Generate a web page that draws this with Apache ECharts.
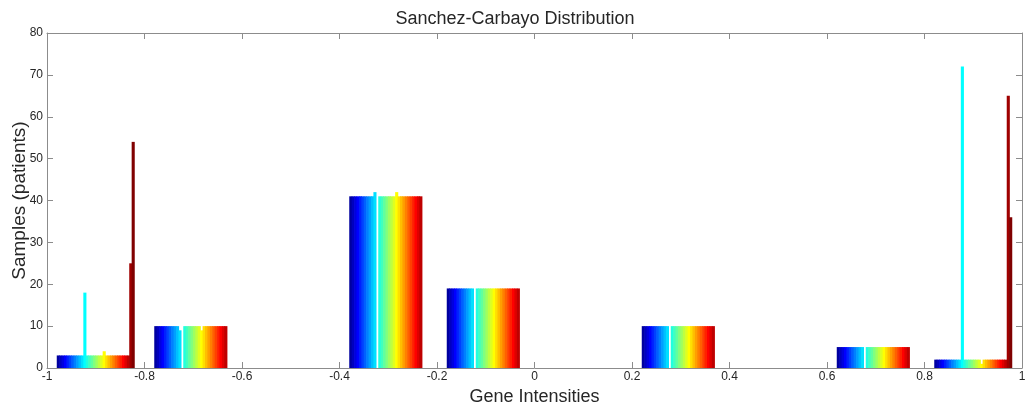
<!DOCTYPE html>
<html>
<head>
<meta charset="utf-8">
<script src="https://cdn.jsdelivr.net/npm/echarts@6/dist/echarts.min.js"></script>
<style>
  html, body { margin: 0; padding: 0; background: #fff; }
  #chart { width: 1030px; height: 405px; }
</style>
</head>
<body>
<div id="chart"></div>
<script>
// Histogram bins (centres) and axis ticks
const binCenters = ['-0.9', '-0.7', '-0.5', '-0.3', '-0.1', '0.1', '0.3', '0.5', '0.7', '0.9'];
const xTicks = [-1, -0.8, -0.6, -0.4, -0.2, 0, 0.2, 0.4, 0.6, 0.8, 1];
const yTicks = [0, 10, 20, 30, 40, 50, 60, 70, 80];

// Patient counts per bin, one row per gene (32 genes)
const counts = [
  [3, 10, 0, 41, 19, 0, 10, 0, 5, 2],
  [3, 10, 0, 41, 19, 0, 10, 0, 5, 2],
  [3, 10, 0, 41, 19, 0, 10, 0, 5, 2],
  [3, 10, 0, 41, 19, 0, 10, 0, 5, 2],
  [3, 10, 0, 41, 19, 0, 10, 0, 5, 2],
  [3, 10, 0, 41, 19, 0, 10, 0, 5, 2],
  [3, 10, 0, 41, 19, 0, 10, 0, 5, 2],
  [3, 10, 0, 41, 19, 0, 10, 0, 5, 2],
  [3, 10, 0, 41, 19, 0, 10, 0, 5, 2],
  [3, 10, 0, 41, 19, 0, 10, 0, 5, 2],
  [3, 9, 0, 42, 19, 0, 10, 0, 5, 2],
  [18, 0, 0, 0, 0, 0, 0, 0, 0, 72],
  [3, 10, 0, 41, 19, 0, 10, 0, 5, 2],
  [3, 10, 0, 41, 19, 0, 10, 0, 5, 2],
  [3, 10, 0, 41, 19, 0, 10, 0, 5, 2],
  [3, 10, 0, 41, 19, 0, 10, 0, 5, 2],
  [3, 10, 0, 41, 19, 0, 10, 0, 5, 2],
  [3, 10, 0, 41, 19, 0, 10, 0, 5, 2],
  [3, 10, 0, 41, 19, 0, 10, 0, 5, 2],
  [4, 9, 0, 42, 19, 0, 10, 0, 5, 1],
  [3, 10, 0, 41, 19, 0, 10, 0, 5, 2],
  [3, 10, 0, 41, 19, 0, 10, 0, 5, 2],
  [3, 10, 0, 41, 19, 0, 10, 0, 5, 2],
  [3, 10, 0, 41, 19, 0, 10, 0, 5, 2],
  [3, 10, 0, 41, 19, 0, 10, 0, 5, 2],
  [3, 10, 0, 41, 19, 0, 10, 0, 5, 2],
  [3, 10, 0, 41, 19, 0, 10, 0, 5, 2],
  [3, 10, 0, 41, 19, 0, 10, 0, 5, 2],
  [3, 10, 0, 41, 19, 0, 10, 0, 5, 2],
  [3, 10, 0, 41, 19, 0, 10, 0, 5, 2],
  [25, 0, 0, 0, 0, 0, 0, 0, 0, 65],
  [54, 0, 0, 0, 0, 0, 0, 0, 0, 36]
];

// MATLAB-style "jet" colormap with m entries
function jet(m) {
  const n = Math.ceil(m / 4);
  const u = [];
  for (let i = 1; i <= n; i++) u.push(i / n);
  for (let i = 1; i < n; i++) u.push(1);
  for (let i = n; i >= 1; i--) u.push(i / n);
  const g0 = Math.ceil(n / 2) - (m % 4 === 1 ? 1 : 0);
  const r = new Array(m).fill(0), g = new Array(m).fill(0), b = new Array(m).fill(0);
  for (let k = 0; k < u.length; k++) {
    const gi = g0 + k + 1, ri = gi + n, bi = gi - n;
    if (ri >= 1 && ri <= m) r[ri - 1] = u[k];
    if (gi >= 1 && gi <= m) g[gi - 1] = u[k];
    if (bi >= 1 && bi <= m) b[bi - 1] = u[k];
  }
  const out = [];
  for (let i = 0; i < m; i++) {
    out.push('rgb(' + Math.round(r[i] * 255) + ',' + Math.round(g[i] * 255) + ',' + Math.round(b[i] * 255) + ')');
  }
  return out;
}

const colors = jet(counts.length);
const axisGrey = '#8c8c8c';
const labelColor = '#262626';
const font = 'Liberation Sans, Arial, sans-serif';

// One bar series per gene; a slight negative gap lets neighbouring bars
// overlap a fraction of a pixel so no seams show inside a group.
const series = counts.map((row, i) => ({
  type: 'bar',
  xAxisIndex: 0,
  yAxisIndex: 0,
  data: row,
  barGap: '-22%',
  barCategoryGap: '20%',
  itemStyle: { color: colors[i] },
  emphasis: { disabled: true },
  silent: true
}));

const chart = echarts.init(document.getElementById('chart'), null, { renderer: 'canvas' });
chart.setOption({
  animation: false,
  backgroundColor: '#fff',
  title: {
    text: 'Sanchez-Carbayo Distribution',
    left: 'center',
    top: 5,
    textStyle: { fontFamily: font, fontSize: 18, fontWeight: 'normal', color: labelColor }
  },
  grid: { left: 47, right: 8, top: 33, bottom: 37, containLabel: false, outerBoundsMode: 'none' },
  xAxis: [
    {
      type: 'category',
      data: binCenters,
      boundaryGap: true,
      show: false
    },
    {
      type: 'value',
      position: 'bottom',
      min: xTicks[0],
      max: xTicks[xTicks.length - 1],
      interval: 0.2,
      name: 'Gene Intensities',
      nameLocation: 'middle',
      nameGap: 18,
      nameTextStyle: { fontFamily: font, fontSize: 18, color: labelColor },
      axisLine: { show: true, onZero: false, lineStyle: { color: axisGrey, width: 1 } },
      axisTick: { show: true, inside: true, length: 6, lineStyle: { color: axisGrey } },
      axisLabel: {
        fontFamily: font, fontSize: 12, color: labelColor, margin: 3,
        formatter: v => String(Math.round(v * 10) / 10)
      },
      splitLine: { show: false }
    },
    {
      type: 'value',
      position: 'top',
      min: xTicks[0],
      max: xTicks[xTicks.length - 1],
      interval: 0.2,
      axisLine: { show: true, onZero: false, lineStyle: { color: axisGrey, width: 1 } },
      axisTick: { show: true, inside: true, length: 6, lineStyle: { color: axisGrey } },
      axisLabel: { show: false },
      splitLine: { show: false }
    }
  ],
  yAxis: [
    {
      type: 'value',
      position: 'left',
      min: yTicks[0],
      max: yTicks[yTicks.length - 1],
      interval: 10,
      name: 'Samples (patients)',
      nameLocation: 'middle',
      nameGap: 18,
      nameMoveOverlap: false,
      nameRotate: 90,
      nameTextStyle: { fontFamily: font, fontSize: 19, color: labelColor },
      axisLine: { show: true, onZero: false, lineStyle: { color: axisGrey, width: 1 } },
      axisTick: { show: true, inside: true, length: 6, lineStyle: { color: axisGrey } },
      axisLabel: { fontFamily: font, fontSize: 12, color: labelColor, margin: 4 },
      splitLine: { show: false }
    },
    {
      type: 'value',
      position: 'right',
      min: yTicks[0],
      max: yTicks[yTicks.length - 1],
      interval: 10,
      axisLine: { show: true, onZero: false, lineStyle: { color: axisGrey, width: 1 } },
      axisTick: { show: true, inside: true, length: 6, lineStyle: { color: axisGrey } },
      axisLabel: { show: false },
      splitLine: { show: false }
    }
  ],
  series: series
});
</script>
</body>
</html>
